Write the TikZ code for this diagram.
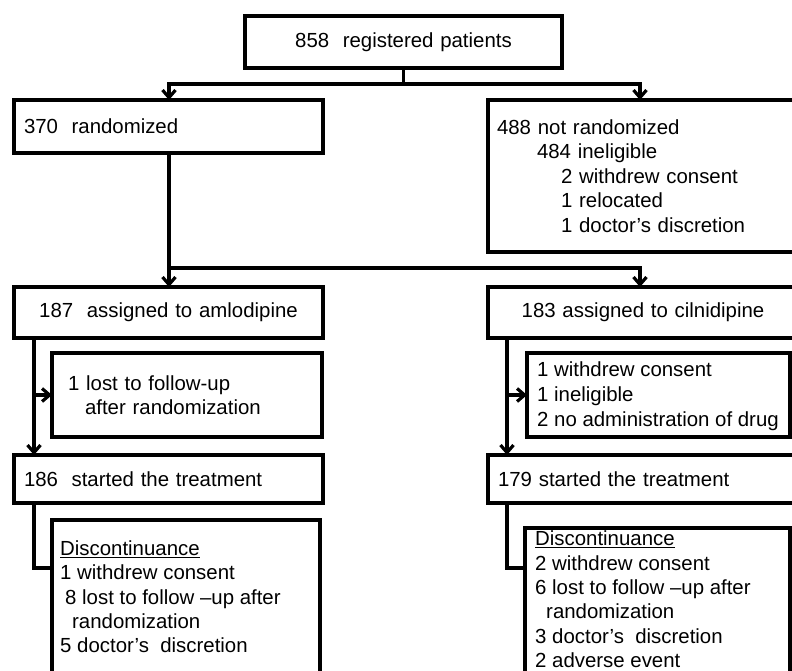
\documentclass[tikz,border=0pt]{standalone}
\usepackage{fontspec}
\setmainfont{Liberation Sans}
\usetikzlibrary{arrows.meta}
\begin{document}
\begin{tikzpicture}[x=1pt,y=-1pt,
  box/.style={draw, line width=4.2pt, anchor=north west, inner ysep=0pt, outer sep=0pt,
    font=\fontsize{20.4}{24.5}\selectfont},
  lbox/.style={box, align=left},
  cbox/.style={box, align=center},
  txt/.style={anchor=north west, inner sep=0pt, align=left, font=\fontsize{20.4}{24.3}\selectfont},
  conn/.style={line width=3.2pt},
  arr/.style={conn, -{Straight Barb[length=7.5pt,width=13pt]}}]
\useasboundingbox (0,0) rectangle (792,671);

% boxes
\node[cbox, minimum width=317pt, minimum height=52pt, inner xsep=10pt, text width=297pt] (top) at (245,16) {858~ registered patients};
\node[lbox, minimum width=309pt, minimum height=53pt, inner xsep=10pt, text width=289pt] (rand) at (14,100) {370~ randomized};
\node[lbox, minimum width=310pt, minimum height=152pt, inner xsep=9pt, text width=292pt] (notrand) at (488,100)
  {488 not randomized\\
   \hspace*{40pt}484 ineligible\\
   \hspace*{64pt}2 withdrew consent\\
   \hspace*{64pt}1 relocated\\
   \hspace*{64pt}1 doctor’s discretion};
\node[cbox, minimum width=309pt, minimum height=51pt, inner xsep=10pt, text width=289pt] (amlo) at (14,287) {187~ assigned to amlodipine};
\node[cbox, minimum width=310pt, minimum height=51pt, inner xsep=10pt, text width=290pt] (cilni) at (488,287) {183 assigned to cilnidipine};
\node[lbox, minimum width=270pt, minimum height=84pt, inner xsep=16pt, text width=238pt] (lost) at (52,353)
  {1 lost to follow-up\\ \hspace*{17pt}after randomization};
\node[box, minimum width=263pt, minimum height=84pt, inner xsep=0pt] (rmid) at (527,353) {};
\node[txt, font=\fontsize{20.4}{25}\selectfont] (rmidt) at (537,362)
  {1 withdrew consent\\1 ineligible\\2 no administration of drug};
\node[lbox, minimum width=309pt, minimum height=48pt, inner xsep=10pt, text width=289pt] (startL) at (14,455) {186~ started the treatment};
\node[lbox, minimum width=310pt, minimum height=48pt, inner xsep=10pt, text width=290pt] (startR) at (488,455) {179 started the treatment};
\node[box, minimum width=268pt, minimum height=160pt, inner xsep=0pt] (discL) at (52,520) {};
\node[box, minimum width=265pt, minimum height=152pt, inner xsep=0pt] (discR) at (525,528) {};
\node[txt] (discLt) at (60,540.5)
  {\underline{Discontinuance}\\
   1 withdrew consent\\
   \hspace*{5pt}8 lost to follow –up after\\
   \hspace*{12pt}randomization\\
   5 doctor’s~ discretion};
\node[txt] (discRt) at (535,531)
  {\underline{Discontinuance}\\
   2 withdrew consent\\
   6 lost to follow –up after\\
   \hspace*{11pt}randomization\\
   3 doctor’s~ discretion\\
   2 adverse event};

% junction coordinates
\coordinate (aL) at (169,84);
\coordinate (aR) at (640,84);
\coordinate (bL) at (169,268);
\coordinate (vL) at (34,0);
\coordinate (vR) at (507,0);
\coordinate (cL) at (52,568);
\coordinate (cR) at (525,568);

% connectors
\draw[conn] (top.south) -- (top.south |- aL);
\draw[arr] (top.south |- aL) -| (rand.north -| aL);
\draw[arr] (top.south |- aL) -| (notrand.north -| aR);
\draw[arr] (rand.south -| aL) -- (amlo.north -| aL);
\draw[arr] (bL) -| (cilni.north -| aR);
\draw[arr] (amlo.south -| vL) -- (startL.north -| vL);
\draw[arr] (lost.west -| vL) -- (lost.west);
\draw[arr] (cilni.south -| vR) -- (startR.north -| vR);
\draw[arr] (rmid.west -| vR) -- (rmid.west);
\draw[conn] (startL.south -| vL) |- (cL);
\draw[conn] (startR.south -| vR) |- (cR);
\end{tikzpicture}
\end{document}
